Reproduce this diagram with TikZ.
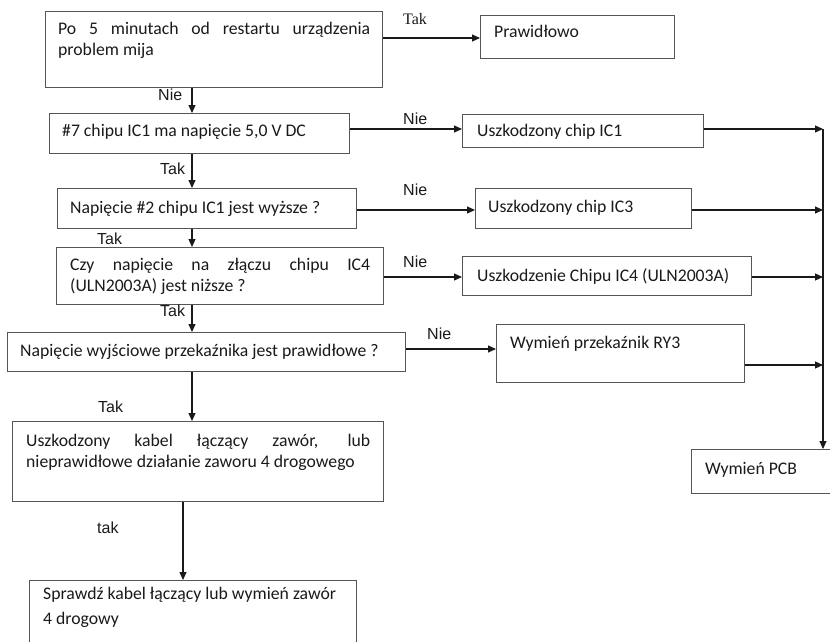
\documentclass[tikz,border=0pt]{standalone}
\usepackage{fontspec}
\setmainfont{Carlito}
\newfontfamily\lblfont{Liberation Sans}
\newfontfamily\seriffont{Liberation Serif}
\usetikzlibrary{arrows.meta}
\definecolor{boxgray}{HTML}{555555}
\definecolor{linecol}{HTML}{1A1A1A}
\definecolor{txtcol}{HTML}{1A1A1A}
\begin{document}
\begin{tikzpicture}[x=1pt,y=-1pt,
  box/.style={draw=boxgray, line width=1.1pt, anchor=north west, inner sep=0pt},
  txt/.style={anchor=base west, inner sep=0pt, font=\fontsize{17.7}{21.6}\selectfont, text=txtcol},
  lbl/.style={anchor=base west, inner sep=0pt, font=\lblfont\fontsize{16}{18}\selectfont, text=txtcol},
  slbl/.style={anchor=base west, inner sep=0pt, font=\seriffont\fontsize{16}{18}\selectfont, text=txtcol},
  arr/.style={draw=linecol, line width=1.1pt, -{Triangle[length=8pt,width=7pt]}},
  ln/.style={draw=linecol, line width=1.1pt}]
\useasboundingbox (0,0) rectangle (830,642);
\clip (0,0) rectangle (830,642);
\fill[white] (0,0) rectangle (830,642);

% boxes
\node[box, minimum width=337pt, minimum height=76pt] (b1) at (45,11) {};
\node[box, minimum width=194pt, minimum height=43pt] (bP) at (480,15) {};
\node[box, minimum width=300pt, minimum height=40pt] (b2) at (49,113) {};
\node[box, minimum width=241pt, minimum height=33pt] (ic1) at (462,114) {};
\node[box, minimum width=299pt, minimum height=40pt] (b3) at (57,188) {};
\node[box, minimum width=216pt, minimum height=40pt] (ic3) at (475,188) {};
\node[box, minimum width=327pt, minimum height=57pt] (b4) at (56,247) {};
\node[box, minimum width=289pt, minimum height=39pt] (ic4) at (462,256) {};
\node[box, minimum width=398pt, minimum height=39pt] (b5) at (7,332) {};
\node[box, minimum width=248pt, minimum height=58pt] (ry3) at (496,324) {};
\node[box, minimum width=371pt, minimum height=80pt] (b6) at (12,421) {};
\node[box, minimum width=327pt, minimum height=90pt] (b7) at (29,580) {};
\node[box, minimum width=160pt, minimum height=44pt] (pcb) at (691,449) {};

% box texts
\node[txt] (b1a) at (58,35) {\makebox[312pt][s]{Po 5 minutach od restartu urządzenia}};
\node[txt] (b1b) at (58,56) {problem mija};
\node[txt] (bPt) at (494,38) {Prawidłowo};
\node[txt] (b2t) at (62,136) {\#7 chipu IC1 ma napięcie 5,0 V DC};
\node[txt] (ic1t) at (477,136) {Uszkodzony chip IC1};
\node[txt] (b3t) at (70,213) {Napięcie \#2 chipu IC1 jest wyższe ?};
\node[txt] (ic3t) at (488,212) {Uszkodzony chip IC3};
\node[txt] (b4a) at (70,270) {\makebox[300pt][s]{Czy napięcie na złączu chipu IC4}};
\node[txt] (b4b) at (70,291) {(ULN2003A) jest niższe ?};
\node[txt] (ic4t) at (477,281) {Uszkodzenie Chipu IC4 (ULN2003A)};
\node[txt] (b5t) at (20,356) {Napięcie wyjściowe przekaźnika jest prawidłowe ?};
\node[txt] (ry3t) at (510,348) {Wymień przekaźnik RY3};
\node[txt] (b6a) at (26,446) {\makebox[344pt][s]{Uszkodzony kabel łączący zawór, lub}};
\node[txt] (b6b) at (26,467) {nieprawidłowe działanie zaworu 4 drogowego};
\node[txt] (b7a) at (43,599) {Sprawdź kabel łączący lub wymień zawór};
\node[txt] (b7b) at (43,624) {4 drogowy};
\node[txt] (pcbt) at (705,474) {Wymień PCB};

% reference coordinates
\coordinate (xa) at (192,0);
\coordinate (xb) at (183,0);
\coordinate (bus) at (823,129);
\coordinate (y1) at (0,38);
\coordinate (y2) at (0,129);
\coordinate (y3) at (0,210);
\coordinate (y4) at (0,277);
\coordinate (y5) at (0,349);
\coordinate (y6) at (0,365);

% vertical flow
\draw[arr] (b1.south -| xa) -- (b2.north -| xa);
\draw[arr] (b2.south -| xa) -- (b3.north -| xa);
\draw[arr] (b3.south -| xa) -- (b4.north -| xa);
\draw[arr] (b4.south -| xa) -- (b5.north -| xa);
\draw[arr] (b5.south -| xa) -- (b6.north -| xa);
\draw[arr] (b6.south -| xb) -- (b7.north -| xb);

% horizontal branches
\draw[arr] (b1.east |- y1) -- (bP.west |- y1);
\draw[arr] (b2.east |- y2) -- (ic1.west |- y2);
\draw[arr] (b3.east |- y3) -- (ic3.west |- y3);
\draw[arr] (b4.east |- y4) -- (ic4.west |- y4);
\draw[arr] (b5.east |- y5) -- (ry3.west |- y5);

% to bus
\draw[arr] (ic1.east |- y2) -- (bus |- y2);
\draw[arr] (ic3.east |- y3) -- (bus |- y3);
\draw[arr] (ic4.east |- y4) -- (bus |- y4);
\draw[arr] (ry3.east |- y6) -- (bus |- y6);
\draw[arr] (bus) -- (pcb.north -| bus);

% labels
\node[slbl] (l1) at (403,25) {Tak};
\node[lbl] (l2) at (158,100) {Nie};
\node[lbl] (l3) at (403,124) {Nie};
\node[lbl] (l4) at (160,174) {Tak};
\node[lbl] (l5) at (403,195) {Nie};
\node[lbl] (l6) at (97,244) {Tak};
\node[lbl] (l7) at (403,267) {Nie};
\node[lbl] (l8) at (160,316) {Tak};
\node[lbl] (l9) at (427,339) {Nie};
\node[lbl] (l10) at (98,412) {Tak};
\node[lbl] (l11) at (97,533) {tak};
\end{tikzpicture}
\end{document}
